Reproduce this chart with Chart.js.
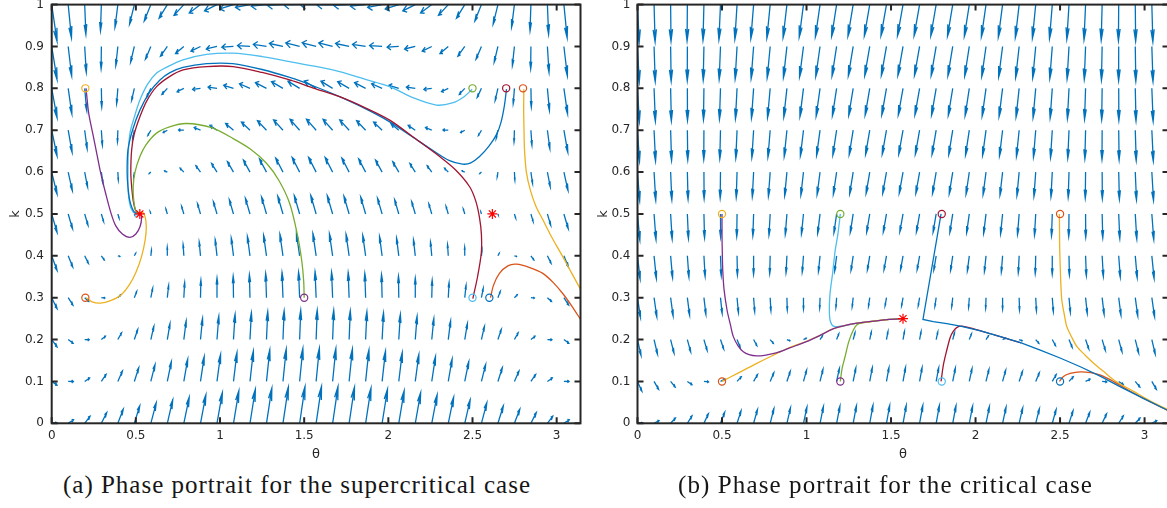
<!DOCTYPE html>
<html>
<head>
<meta charset="utf-8">
<script src="https://cdn.jsdelivr.net/npm/chart.js@4.4.1/dist/chart.umd.min.js"></script>
<style>
  html, body { margin: 0; padding: 0; background: #fff; width: 1167px; height: 508px; overflow: hidden; position: relative; }
  canvas { position: absolute; }
  #cv-a { left: 0; top: -20px; }
  #cv-b { left: 580px; top: -20px; }
  .cap { position: absolute; top: 472px; font-family: "Liberation Serif", serif; font-size: 25px; line-height: 1; color: #161616; white-space: nowrap; }
  #cap-a { left: 63px; }
  #cap-b { left: 678px; }
</style>
</head>
<body>
<canvas id="cv-a" width="600" height="490"></canvas>
<canvas id="cv-b" width="600" height="490"></canvas>
<div class="cap" id="cap-a">(a) Phase portrait for the supercritical case</div>
<div class="cap" id="cap-b">(b) Phase portrait for the critical case</div>
<script>
'use strict';

/* ---------- Axis ticks ---------- */
const xTicks = [0, 0.5, 1, 1.5, 2, 2.5, 3];
const yTicks = [0, 0.1, 0.2, 0.3, 0.4, 0.5, 0.6, 0.7, 0.8, 0.9, 1];

/* ---------- Quiver grid (θ columns π/32 apart, k rows 0.1 apart) ---------- */
const quiverTheta = [0, 0.098, 0.196, 0.295, 0.393, 0.491, 0.589, 0.687, 0.785, 0.884, 0.982,
  1.080, 1.178, 1.276, 1.374, 1.473, 1.571, 1.669, 1.767, 1.865, 1.963, 2.062, 2.160, 2.258,
  2.356, 2.454, 2.553, 2.651, 2.749, 2.847, 2.945, 3.043, 3.142];
const quiverK = [0, 0.1, 0.2, 0.3, 0.4, 0.5, 0.6, 0.7, 0.8, 0.9, 1];

/* Field: dθ = gain·(c − k·sinθ), dk = a·sinθ − k */
const fieldA = { gain: 1.45, c: 0.25, a: 1 };
const fieldB = { gain: 0.44, c: 0.25, a: 0.25 };

/* ---------- (a) supercritical: trajectories [θ, k] ---------- */
const trajA_purple = [[0.204,0.8],[0.22,0.74],[0.245,0.69],[0.27,0.64],[0.29,0.6],[0.32,0.55],[0.35,0.505],
  [0.38,0.472],[0.42,0.452],[0.465,0.444],[0.5,0.452],[0.525,0.47],[0.534,0.49],[0.528,0.502],[0.522,0.5]];
const trajA_yellow = [[0.204,0.3],[0.24,0.29],[0.29,0.287],[0.35,0.293],[0.41,0.306],[0.46,0.33],[0.5,0.36],
  [0.535,0.4],[0.556,0.44],[0.562,0.47],[0.555,0.493],[0.538,0.505],[0.522,0.5]];
const trajA_green = [[1.5,0.3],[1.497,0.34],[1.485,0.39],[1.46,0.45],[1.414,0.525],[1.35,0.58],[1.276,0.621],
  [1.18,0.655],[1.078,0.68],[0.95,0.706],[0.8,0.716],[0.7,0.708],[0.623,0.693],[0.56,0.665],[0.524,0.637],
  [0.495,0.6],[0.484,0.565],[0.488,0.53],[0.5,0.508],[0.522,0.5]];
const trajA_cyan = [[2.498,0.798],[2.45,0.78],[2.38,0.765],[2.285,0.76],[2.15,0.777],[2.008,0.804],[1.86,0.822],
  [1.71,0.84],[1.56,0.853],[1.414,0.864],[1.25,0.876],[1.076,0.884],[0.92,0.881],[0.78,0.868],[0.69,0.852],
  [0.625,0.837],[0.57,0.81],[0.524,0.772],[0.49,0.73],[0.465,0.693],[0.455,0.645],[0.453,0.598],[0.455,0.55],
  [0.47,0.515],[0.5,0.498],[0.522,0.5]];
const trajA_blue = [[2.702,0.798],[2.69,0.76],[2.67,0.72],[2.643,0.69],[2.6,0.663],[2.542,0.637],[2.49,0.622],
  [2.441,0.619],[2.36,0.628],[2.263,0.652],[2.14,0.685],[2.008,0.72],[1.86,0.752],[1.71,0.78],[1.56,0.805],
  [1.414,0.826],[1.25,0.845],[1.076,0.859],[0.92,0.859],[0.78,0.85],[0.7,0.837],[0.643,0.82],[0.58,0.79],
  [0.524,0.748],[0.48,0.7],[0.453,0.653],[0.448,0.6],[0.453,0.565],[0.465,0.53],[0.49,0.505],[0.522,0.5]];
const trajA_darkred = [[2.502,0.298],[2.53,0.35],[2.552,0.406],[2.553,0.45],[2.542,0.49],[2.52,0.53],[2.483,0.565],
  [2.4,0.605],[2.305,0.637],[2.16,0.68],[2.008,0.724],[1.86,0.754],[1.71,0.78],[1.56,0.8],[1.414,0.82],
  [1.25,0.838],[1.078,0.852],[0.92,0.852],[0.781,0.844],[0.7,0.828],[0.623,0.804],[0.565,0.77],[0.524,0.732],
  [0.49,0.69],[0.475,0.653],[0.47,0.6],[0.475,0.565],[0.485,0.53],[0.5,0.507],[0.522,0.5]];
const trajA_orange = [[2.607,0.3],[2.625,0.33],[2.66,0.358],[2.71,0.376],[2.76,0.38],[2.84,0.372],[2.918,0.358],
  [2.98,0.336],[3.036,0.31],[3.09,0.28],[3.142,0.248]];
const trajA_yellow2 = [[2.805,0.798],[2.804,0.75],[2.806,0.7],[2.809,0.653],[2.82,0.6],[2.845,0.555],[2.878,0.517],
  [2.918,0.486],[2.97,0.445],[3.036,0.398],[3.09,0.358],[3.142,0.32]];

const startA = [[0.2,0.8],[0.2,0.3],[1.5,0.3],[2.5,0.8],[2.7,0.8],[2.8,0.8],[2.5,0.3],[2.6,0.3]];
const equilA = [[0.5236,0.5],[2.618,0.5]];

/* ---------- (b) critical: trajectories [θ, k] ---------- */
const trajB_purple = [[0.5,0.5],[0.5,0.45],[0.502,0.4],[0.505,0.36],[0.512,0.32],[0.53,0.27],[0.55,0.235],
  [0.567,0.207],[0.595,0.185],[0.626,0.171],[0.66,0.164],[0.705,0.161],[0.76,0.163],[0.82,0.168],[0.9,0.18],
  [1.0,0.195],[1.08,0.21],[1.16,0.226],[1.23,0.234],[1.3,0.239],[1.4,0.244],[1.49,0.248],[1.571,0.25]];
const trajB_yellow = [[0.5,0.1],[0.6,0.121],[0.7,0.142],[0.8,0.162],[0.9,0.181],[1.0,0.196],[1.08,0.21],
  [1.16,0.226],[1.3,0.239],[1.49,0.248],[1.571,0.25]];
const trajB_cyan = [[1.2,0.5],[1.185,0.45],[1.17,0.414],[1.155,0.36],[1.139,0.31],[1.135,0.27],[1.14,0.245],
  [1.159,0.232],[1.2,0.232],[1.25,0.235],[1.3,0.239],[1.4,0.244],[1.49,0.248],[1.571,0.25]];
const trajB_green = [[1.2,0.1],[1.21,0.13],[1.228,0.159],[1.25,0.195],[1.277,0.223],[1.3,0.236],[1.33,0.24],
  [1.4,0.244],[1.49,0.248],[1.571,0.25]];
const trajB_blue = [[1.796,0.5],[1.689,0.248],[1.75,0.243],[1.83,0.238],[1.91,0.232],[2.03,0.221],[2.147,0.207],
  [2.27,0.192],[2.383,0.175],[2.5,0.156],[2.62,0.135],[2.74,0.112],[2.857,0.087],[2.99,0.06],[3.142,0.03]];
const trajB_darkred = [[1.796,0.1],[1.81,0.14],[1.83,0.175],[1.85,0.205],[1.867,0.219],[1.89,0.229],[1.92,0.232],
  [2.03,0.221],[2.147,0.207],[2.27,0.192]];
const trajB_orange = [[2.496,0.1],[2.52,0.112],[2.56,0.119],[2.62,0.123],[2.68,0.121],[2.74,0.115],[2.82,0.099],
  [2.9,0.08],[2.99,0.06],[3.142,0.03]];
const trajB_yellow2 = [[2.496,0.5],[2.497,0.45],[2.498,0.414],[2.503,0.35],[2.51,0.295],[2.525,0.26],[2.54,0.231],
  [2.57,0.205],[2.6,0.183],[2.65,0.162],[2.7,0.143],[2.76,0.123],[2.82,0.103],[2.94,0.075],[3.04,0.052],[3.142,0.032]];

const startB = [[0.5,0.5],[1.2,0.5],[1.8,0.5],[2.5,0.5],[0.5,0.1],[1.2,0.1],[1.8,0.1],[2.5,0.1]];
const equilB = [[1.5708,0.25]];

/* MATLAB default colour order */
const COL = {
  blue: '#0072BD', orange: '#D95319', yellow: '#EDB120', purple: '#7E2F8E',
  green: '#77AC30', cyan: '#4DBEEE', darkred: '#A2142F',
};
const startColA = [COL.yellow, COL.orange, COL.purple, COL.green, COL.darkred, COL.orange, COL.cyan, COL.blue];
const startColB = [COL.yellow, COL.green, COL.darkred, COL.orange, COL.orange, COL.purple, COL.cyan, COL.blue];

const TXT = '#262626';
const SANS = 'DejaVu Sans';

/* Field rate at a grid node */
function rate(f, th, k) {
  const s = Math.sin(th);
  return [f.gain * (f.c - k * s), f.a * s - k];
}

/* Quiver arrows drawn through the chart scales (MATLAB-style heads in data units) */
function quiverPlugin(field, look) {
  return {
    id: 'quiver',
    beforeDatasetsDraw(chart) {
      const { ctx, chartArea: ca, scales: { x, y } } = chart;
      const px = v => x.getPixelForValue(v);
      const py = v => y.getPixelForValue(v);
      const al = 0.33, be = 0.33;
      ctx.save();
      ctx.beginPath();
      ctx.rect(ca.left, ca.top, ca.right - ca.left, ca.bottom - ca.top);
      ctx.clip();
      ctx.strokeStyle = COL.blue;
      ctx.lineWidth = look.width;
      ctx.beginPath();
      quiverK.forEach(k => quiverTheta.forEach(th => {
        const [du, dv] = rate(field, th, k);
        const m = Math.hypot(du, dv);
        if (!m) return;
        const len = look.size * Math.pow(m, look.power);
        const u = du / m * len, v = dv / m * len;
        const tx = th + u, ty = k + v;
        ctx.moveTo(px(th), py(k));
        ctx.lineTo(px(tx), py(ty));
        ctx.moveTo(px(tx - al * (u + be * v)), py(ty - al * (v - be * u)));
        ctx.lineTo(px(tx), py(ty));
        ctx.lineTo(px(tx - al * (u - be * v)), py(ty - al * (v + be * u)));
      }));
      ctx.stroke();
      ctx.restore();
    },
  };
}

/* Box with inward ticks on all four sides */
const boxPlugin = {
  id: 'box',
  afterDatasetsDraw(chart) {
    const { ctx, chartArea: ca, scales: { x, y } } = chart;
    const t = 6;
    ctx.save();
    ctx.strokeStyle = TXT;
    ctx.lineWidth = 2;
    ctx.beginPath();
    xTicks.forEach(v => {
      const p = x.getPixelForValue(v);
      ctx.moveTo(p, ca.bottom); ctx.lineTo(p, ca.bottom - t);
      ctx.moveTo(p, ca.top);    ctx.lineTo(p, ca.top + t);
    });
    yTicks.forEach(v => {
      const p = y.getPixelForValue(v);
      ctx.moveTo(ca.left, p);  ctx.lineTo(ca.left + t, p);
      ctx.moveTo(ca.right, p); ctx.lineTo(ca.right - t, p);
    });
    ctx.stroke();
    ctx.strokeRect(ca.left, ca.top, ca.right - ca.left, ca.bottom - ca.top);
    ctx.restore();
  },
};

const pts = arr => arr.map(([x, y]) => ({ x, y }));

function trajSet(arr, color, order, tension = 0.3) {
  return {
    data: pts(arr), showLine: true, borderColor: color, borderWidth: 1.3,
    pointRadius: 0, tension, fill: false, order,
  };
}

function markerSets(starts, startCols, equil) {
  return [
    {
      data: pts(equil), pointStyle: 'star', pointRadius: 5, pointBorderWidth: 1.2,
      pointBorderColor: '#FF0000', pointBackgroundColor: '#FF0000', showLine: false, order: 0,
    },
    {
      data: pts(starts), pointStyle: 'circle', pointRadius: 3.6, pointBorderWidth: 1.2,
      pointBorderColor: startCols, pointBackgroundColor: 'rgba(0,0,0,0)', showLine: false, order: 0,
    },
  ];
}

function build(id, datasets, plugins, layout) {
  return new Chart(document.getElementById(id), {
    type: 'scatter',
    data: { datasets },
    plugins,
    options: {
      responsive: false,
      animation: false,
      devicePixelRatio: 1,
      events: [],
      layout: { padding: { left: 0, right: layout.padRight, top: 24.6, bottom: 0 } },
      plugins: { legend: { display: false }, tooltip: { enabled: false } },
      scales: {
        x: {
          type: 'linear', min: 0, max: Math.PI,
          afterBuildTicks: s => { s.ticks = xTicks.map(v => ({ value: v })); },
          afterFit: s => { s.height = 46.7; },
          grid: { display: false, drawTicks: false },
          border: { display: false },
          ticks: { color: TXT, font: { family: SANS, size: 12 }, padding: 5, maxRotation: 0, autoSkip: false, callback: v => String(v) },
          title: { display: true, text: 'θ', color: TXT, font: { family: SANS, size: 13 }, padding: { top: 0, bottom: 7.5 } },
        },
        y: {
          type: 'linear', min: 0, max: 1,
          afterBuildTicks: s => { s.ticks = yTicks.map(v => ({ value: v })); },
          afterFit: s => { s.width = layout.axisWidth; },
          grid: { display: false, drawTicks: false },
          border: { display: false },
          ticks: { color: TXT, font: { family: SANS, size: 12 }, padding: layout.tickPad, autoSkip: false, callback: v => String(v) },
          title: { display: true, text: 'k', color: TXT, font: { family: SANS, size: 13 }, padding: { top: layout.kPad, bottom: 0 } },
        },
      },
    },
  });
}

/* ---------- (a) ---------- */
build('cv-a', [
  ...markerSets(startA, startColA, equilA),
  trajSet(trajA_purple, COL.purple, 1),
  trajSet(trajA_yellow, COL.yellow, 2),
  trajSet(trajA_green, COL.green, 3),
  trajSet(trajA_darkred, COL.darkred, 4),
  trajSet(trajA_blue, COL.blue, 5),
  trajSet(trajA_cyan, COL.cyan, 6),
  trajSet(trajA_orange, COL.orange, 7),
  trajSet(trajA_yellow2, COL.yellow, 8),
], [quiverPlugin(fieldA, { size: 0.088, power: 1, width: 1.3 }), boxPlugin],
{ padRight: 19.5, axisWidth: 51.7, tickPad: 7.7, kPad: 7.5 });

/* ---------- (b) ---------- */
build('cv-b', [
  ...markerSets(startB, startColB, equilB),
  trajSet(trajB_blue, COL.blue, 1, 0),
  trajSet(trajB_yellow2, COL.yellow, 2),
  trajSet(trajB_orange, COL.orange, 3),
  trajSet(trajB_darkred, COL.darkred, 4),
  trajSet(trajB_purple, COL.purple, 5),
  trajSet(trajB_yellow, COL.yellow, 6),
  trajSet(trajB_green, COL.green, 7),
  trajSet(trajB_cyan, COL.cyan, 8),
], [quiverPlugin(fieldB, { size: 0.09, power: 0.5, width: 1.3 }), boxPlugin],
{ padRight: 11.5, axisWidth: 57.5, tickPad: 7, kPad: 15.5 });

/* ---------- Captions: spread to the original widths ---------- */
(() => {
  const m = document.createElement('canvas').getContext('2d');
  m.font = '25px "Liberation Serif"';
  [['cap-a', 467], ['cap-b', 414]].forEach(([id, target]) => {
    const el = document.getElementById(id);
    const txt = el.textContent;
    const w = m.measureText(txt).width;
    el.style.letterSpacing = ((target - w) / (txt.length - 1)).toFixed(2) + 'px';
  });
})();
</script>
</body>
</html>
